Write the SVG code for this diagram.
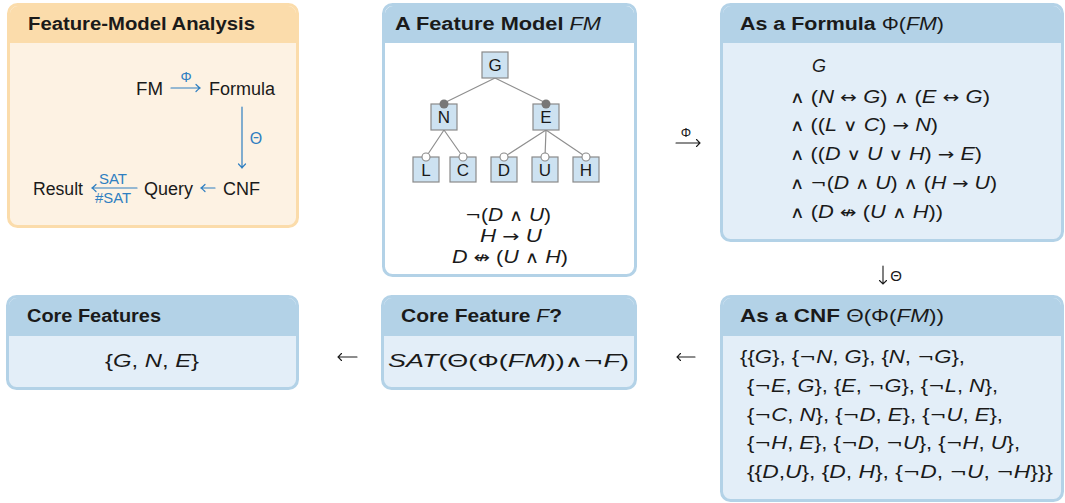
<svg xmlns="http://www.w3.org/2000/svg" width="1065" height="503" viewBox="0 0 1065 503">
  <style>
    .t { font-family: "Liberation Sans", "DejaVu Sans", sans-serif; fill: #1a1a1a; }
    .o { font-family: "DejaVu Sans", sans-serif; font-style: normal; font-weight: normal; font-size: 0.92em; }
    .title { font-size: 18px; font-weight: bold; }
    .body { font-size: 18px; }
    .i { font-style: italic; }
    .blue { fill: #2f7fc1; }
    .lbl { font-size: 14px; }
    .box-b { fill: #e3eef8; stroke: #b3d2e7; stroke-width: 3; }
    .box-w { fill: #ffffff; stroke: #b3d2e7; stroke-width: 3; }
    .hdr-b { fill: #b3d2e7; }
    .box-o { fill: #fdf2e3; stroke: #fbdcab; stroke-width: 3; }
    .hdr-o { fill: #fbdcab; }
    .feat { fill: #cde2f1; stroke: #8a8a8a; stroke-width: 1.2; }
    .edge { stroke: #8f8f8f; stroke-width: 1.2; fill: none; }
    .ln { font-size: 17px; text-anchor: middle; }
    .arr { stroke: #1a1a1a; stroke-width: 1.1; fill: none; stroke-linecap: round; }
    .arrb { stroke: #2f7fc1; stroke-width: 1.2; fill: none; stroke-linecap: round; }
  </style>

  <!-- Feature-Model Analysis -->
  <g id="analysis">
    <rect class="box-o" x="8.5" y="4.5" width="289" height="222" rx="9"/>
    <path class="hdr-o" d="M10,43 V13.5 A8,8 0 0 1 18,6 H288 A8,8 0 0 1 296,13.5 V43 Z"/>
    <text class="t title" x="28" y="30" textLength="227" lengthAdjust="spacingAndGlyphs">Feature-Model Analysis</text>
    <text class="t body" x="136" y="95" textLength="27" lengthAdjust="spacingAndGlyphs">FM</text>
    <text class="t body" x="209" y="95" textLength="66" lengthAdjust="spacingAndGlyphs">Formula</text>
    <text class="t lbl blue" x="186" y="82" text-anchor="middle">Φ</text>
    <path class="arrb" d="M171,88 H200 M196,84.5 Q198.5,87 200,88 Q198.5,89 196,91.5"/>
    <path class="arrb" d="M242,107 V168 M238.5,164 Q241,166.5 242,168 Q243,166.5 245.5,164"/>
    <text class="t blue" x="256" y="144" font-size="16" text-anchor="middle">Θ</text>
    <text class="t body" x="33" y="195" textLength="50" lengthAdjust="spacingAndGlyphs">Result</text>
    <text class="t lbl blue" x="113" y="184" text-anchor="middle" textLength="28" lengthAdjust="spacingAndGlyphs">SAT</text>
    <path class="arrb" d="M92,188 H137 M96,184.5 Q93.5,187 92,188 Q93.5,189 96,191.5"/>
    <text class="t lbl blue" x="113" y="203" text-anchor="middle" textLength="36" lengthAdjust="spacingAndGlyphs">#SAT</text>
    <text class="t body" x="144" y="195" textLength="49" lengthAdjust="spacingAndGlyphs">Query</text>
    <path class="arrb" d="M201,188 H215 M205,184.5 Q202.5,187 201,188 Q202.5,189 205,191.5"/>
    <text class="t body" x="223" y="195" textLength="37" lengthAdjust="spacingAndGlyphs">CNF</text>
  </g>

  <!-- A Feature Model FM -->
  <g id="feature-model">
    <rect class="box-w" x="383.5" y="4.5" width="252" height="271" rx="9"/>
    <path class="hdr-b" d="M385,43 V13.5 A8,8 0 0 1 393,6 H626 A8,8 0 0 1 634,13.5 V43 Z"/>
    <text class="t title" x="395" y="30" textLength="206" lengthAdjust="spacingAndGlyphs">A Feature Model <tspan class="i" font-weight="normal">FM</tspan></text>
    <g id="tree">
      <path class="edge" d="M495,78 L444,103 M495,78 L546,103 M444,130 L426,157 M444,130 L463,157 M546,130 L504,157 M546,130 L545,157 M546,130 L586,157"/>
      <rect class="feat" x="482" y="52" width="26" height="26"/>
      <rect class="feat" x="431" y="104" width="26" height="26"/>
      <rect class="feat" x="533" y="104" width="26" height="26"/>
      <rect class="feat" x="413" y="157" width="26" height="25"/>
      <rect class="feat" x="450" y="157" width="26" height="25"/>
      <rect class="feat" x="491" y="157" width="26" height="25"/>
      <rect class="feat" x="532" y="157" width="26" height="25"/>
      <rect class="feat" x="573" y="157" width="26" height="25"/>
      <circle cx="444" cy="104" r="4.5" fill="#777777"/>
      <circle cx="546" cy="104" r="4.5" fill="#777777"/>
      <g fill="#ffffff" stroke="#8a8a8a" stroke-width="1.1">
        <circle cx="426" cy="157" r="4"/>
        <circle cx="463" cy="157" r="4"/>
        <circle cx="504" cy="157" r="4"/>
        <circle cx="545" cy="157" r="4"/>
        <circle cx="586" cy="157" r="4"/>
      </g>
      <text class="t ln" x="495" y="71">G</text>
      <text class="t ln" x="444" y="123">N</text>
      <text class="t ln" x="546" y="123">E</text>
      <text class="t ln" x="426" y="176">L</text>
      <text class="t ln" x="463" y="176">C</text>
      <text class="t ln" x="504" y="176">D</text>
      <text class="t ln" x="545" y="176">U</text>
      <text class="t ln" x="586" y="176">H</text>
    </g>
    <text class="t body" x="465" y="221" textLength="86" lengthAdjust="spacingAndGlyphs"><tspan class="o">¬</tspan>(<tspan class="i">D</tspan> <tspan class="o">∧</tspan> <tspan class="i">U</tspan>)</text>
    <text class="t body" x="480" y="242" textLength="62" lengthAdjust="spacingAndGlyphs"><tspan class="i">H</tspan> <tspan class="o">→</tspan> <tspan class="i">U</tspan></text>
    <text class="t body" x="452" y="263" textLength="116" lengthAdjust="spacingAndGlyphs"><tspan class="i">D</tspan> <tspan class="o">↮</tspan> (<tspan class="i">U</tspan> <tspan class="o">∧</tspan> <tspan class="i">H</tspan>)</text>
  </g>

  <!-- As a Formula -->
  <g id="formula">
    <rect class="box-b" x="721.5" y="4.5" width="341" height="236" rx="9"/>
    <path class="hdr-b" d="M723,43 V13.5 A8,8 0 0 1 731,6 H1053 A8,8 0 0 1 1061,13.5 V43 Z"/>
    <text class="t title" x="740" y="30" textLength="204" lengthAdjust="spacingAndGlyphs">As a Formula <tspan font-weight="normal">Φ(</tspan><tspan class="i" font-weight="normal">FM</tspan><tspan font-weight="normal">)</tspan></text>
    <text class="t body i" x="812" y="72">G</text>
    <text class="t body" x="790" y="103" textLength="200" lengthAdjust="spacingAndGlyphs"><tspan class="o">∧</tspan> (<tspan class="i">N</tspan> <tspan class="o">↔</tspan> <tspan class="i">G</tspan>) <tspan class="o">∧</tspan> (<tspan class="i">E</tspan> <tspan class="o">↔</tspan> <tspan class="i">G</tspan>)</text>
    <text class="t body" x="790" y="131" textLength="148" lengthAdjust="spacingAndGlyphs"><tspan class="o">∧</tspan> ((<tspan class="i">L</tspan> <tspan class="o">∨</tspan> <tspan class="i">C</tspan>) <tspan class="o">→</tspan> <tspan class="i">N</tspan>)</text>
    <text class="t body" x="790" y="160" textLength="192" lengthAdjust="spacingAndGlyphs"><tspan class="o">∧</tspan> ((<tspan class="i">D</tspan> <tspan class="o">∨</tspan> <tspan class="i">U</tspan> <tspan class="o">∨</tspan> <tspan class="i">H</tspan>) <tspan class="o">→</tspan> <tspan class="i">E</tspan>)</text>
    <text class="t body" x="790" y="189" textLength="207" lengthAdjust="spacingAndGlyphs"><tspan class="o">∧</tspan> <tspan class="o">¬</tspan>(<tspan class="i">D</tspan> <tspan class="o">∧</tspan> <tspan class="i">U</tspan>) <tspan class="o">∧</tspan> (<tspan class="i">H</tspan> <tspan class="o">→</tspan> <tspan class="i">U</tspan>)</text>
    <text class="t body" x="790" y="218" textLength="153" lengthAdjust="spacingAndGlyphs"><tspan class="o">∧</tspan> (<tspan class="i">D</tspan> <tspan class="o">↮</tspan> (<tspan class="i">U</tspan> <tspan class="o">∧</tspan> <tspan class="i">H</tspan>))</text>
  </g>

  <!-- As a CNF -->
  <g id="cnf">
    <rect class="box-b" x="721.5" y="296.5" width="341" height="204" rx="9"/>
    <path class="hdr-b" d="M723,336 V305.5 A8,8 0 0 1 731,298 H1053 A8,8 0 0 1 1061,305.5 V336 Z"/>
    <text class="t title" x="740" y="322" textLength="204" lengthAdjust="spacingAndGlyphs">As a CNF <tspan font-weight="normal">Θ(Φ(</tspan><tspan class="i" font-weight="normal">FM</tspan><tspan font-weight="normal">))</tspan></text>
    <text class="t body" x="740" y="363" textLength="225" lengthAdjust="spacingAndGlyphs">{{<tspan class="i">G</tspan>}, {<tspan class="o">¬</tspan><tspan class="i">N</tspan>, <tspan class="i">G</tspan>}, {<tspan class="i">N</tspan>, <tspan class="o">¬</tspan><tspan class="i">G</tspan>},</text>
    <text class="t body" x="747" y="392" textLength="251" lengthAdjust="spacingAndGlyphs">{<tspan class="o">¬</tspan><tspan class="i">E</tspan>, <tspan class="i">G</tspan>}, {<tspan class="i">E</tspan>, <tspan class="o">¬</tspan><tspan class="i">G</tspan>}, {<tspan class="o">¬</tspan><tspan class="i">L</tspan>, <tspan class="i">N</tspan>},</text>
    <text class="t body" x="747" y="421" textLength="256" lengthAdjust="spacingAndGlyphs">{<tspan class="o">¬</tspan><tspan class="i">C</tspan>, <tspan class="i">N</tspan>}, {<tspan class="o">¬</tspan><tspan class="i">D</tspan>, <tspan class="i">E</tspan>}, {<tspan class="o">¬</tspan><tspan class="i">U</tspan>, <tspan class="i">E</tspan>},</text>
    <text class="t body" x="747" y="449" textLength="273" lengthAdjust="spacingAndGlyphs">{<tspan class="o">¬</tspan><tspan class="i">H</tspan>, <tspan class="i">E</tspan>}, {<tspan class="o">¬</tspan><tspan class="i">D</tspan>, <tspan class="o">¬</tspan><tspan class="i">U</tspan>}, {<tspan class="o">¬</tspan><tspan class="i">H</tspan>, <tspan class="i">U</tspan>},</text>
    <text class="t body" x="747" y="478" textLength="306" lengthAdjust="spacingAndGlyphs">{{<tspan class="i">D</tspan>,<tspan class="i">U</tspan>}, {<tspan class="i">D</tspan>, <tspan class="i">H</tspan>}, {<tspan class="o">¬</tspan><tspan class="i">D</tspan>, <tspan class="o">¬</tspan><tspan class="i">U</tspan>, <tspan class="o">¬</tspan><tspan class="i">H</tspan>}}}</text>
  </g>

  <!-- Core Feature F? -->
  <g id="core-query">
    <rect class="box-b" x="382.5" y="296.5" width="253" height="92" rx="9"/>
    <path class="hdr-b" d="M384,336 V305.5 A8,8 0 0 1 392,298 H626 A8,8 0 0 1 634,305.5 V336 Z"/>
    <text class="t title" x="401" y="322" textLength="161" lengthAdjust="spacingAndGlyphs">Core Feature <tspan class="i" font-weight="normal">F</tspan>?</text>
    <text class="t body" x="388" y="367" textLength="241" lengthAdjust="spacingAndGlyphs"><tspan class="i">SAT</tspan>(Θ(Φ(<tspan class="i">FM</tspan>))<tspan class="o">∧¬</tspan><tspan class="i">F</tspan>)</text>
  </g>

  <!-- Core Features -->
  <g id="core-features">
    <rect class="box-b" x="7.5" y="296.5" width="290" height="92" rx="9"/>
    <path class="hdr-b" d="M9,336 V305.5 A8,8 0 0 1 17,298 H288 A8,8 0 0 1 296,305.5 V336 Z"/>
    <text class="t title" x="27" y="322" textLength="134" lengthAdjust="spacingAndGlyphs">Core Features</text>
    <text class="t body" x="105" y="367" textLength="94" lengthAdjust="spacingAndGlyphs">{<tspan class="i">G</tspan>, <tspan class="i">N</tspan>, <tspan class="i">E</tspan>}</text>
  </g>

  <!-- transformations between the boxes -->
  <g id="connectors">
    <text class="t" x="686" y="137" font-size="13" text-anchor="middle">Φ</text>
    <path class="arr" d="M676,143 H700 M696.5,139.5 Q699,142 700,143 Q699,144 696.5,146.5"/>
    <path class="arr" d="M883,266 V284 M879.5,280.5 Q882,283 883,284 Q884,283 886.5,280.5"/>
    <text class="t" x="896" y="281" font-size="15" text-anchor="middle">Θ</text>
    <path class="arr" d="M677,357 H695 M680.5,353.5 Q678,356 677,357 Q678,358 680.5,360.5"/>
    <path class="arr" d="M338,357 H357 M341.5,353.5 Q339,356 338,357 Q339,358 341.5,360.5"/>
  </g>
</svg>
